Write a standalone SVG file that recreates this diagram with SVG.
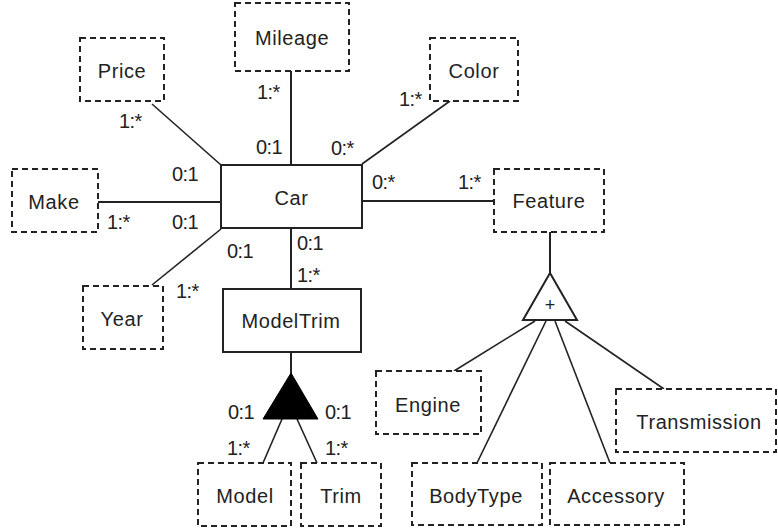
<svg xmlns="http://www.w3.org/2000/svg" width="778" height="529" viewBox="0 0 778 529">
<style>
.box{fill:#fff;stroke:#222;stroke-width:2}
.dbox{fill:#fff;stroke:#222;stroke-width:2;stroke-dasharray:6 4}
.lbl{font-family:"Liberation Sans",Arial,sans-serif;font-size:20px;fill:#222;text-anchor:middle;letter-spacing:0.6px}
.m{font-family:"Liberation Sans",Arial,sans-serif;font-size:20px;fill:#222;letter-spacing:-0.6px}
.c line{stroke:#222;stroke-width:2}
.c line.d{stroke-width:1.6}
</style>
<rect width="778" height="529" fill="#fff"/>
<g class="c" id="connectors">
<line class="d" x1="152" y1="104" x2="221" y2="165"/>
<line x1="291" y1="71" x2="291" y2="165"/>
<line class="d" x1="450" y1="101" x2="362" y2="164"/>
<line x1="98" y1="202" x2="221" y2="202"/>
<line class="d" x1="221" y1="229" x2="152" y2="285"/>
<line x1="362" y1="201" x2="494" y2="201"/>
<line x1="291" y1="228" x2="291" y2="289"/>
<line x1="291" y1="352" x2="291" y2="374"/>
<line class="d" x1="282" y1="419" x2="263" y2="463"/>
<line class="d" x1="297" y1="419" x2="317" y2="463"/>
<line x1="550" y1="232" x2="550" y2="274"/>
<line class="d" x1="535" y1="321" x2="454" y2="371"/>
<line class="d" x1="546" y1="321" x2="477" y2="463"/>
<line class="d" x1="555" y1="321" x2="610" y2="463"/>
<line class="d" x1="565" y1="321" x2="664" y2="389"/>
<text class="m" x="119" y="128">1:*</text>
<text class="m" x="172" y="181">0:1</text>
<text class="m" x="257" y="99">1:*</text>
<text class="m" x="256" y="154">0:1</text>
<text class="m" x="399" y="106">1:*</text>
<text class="m" x="331" y="155">0:*</text>
<text class="m" x="372" y="189">0:*</text>
<text class="m" x="458" y="189">1:*</text>
<text class="m" x="107" y="229">1:*</text>
<text class="m" x="172" y="229">0:1</text>
<text class="m" x="227" y="258">0:1</text>
<text class="m" x="176" y="298">1:*</text>
<text class="m" x="297" y="250">0:1</text>
<text class="m" x="297" y="282">1:*</text>
<text class="m" x="228" y="419">0:1</text>
<text class="m" x="325" y="419">0:1</text>
<text class="m" x="227" y="455">1:*</text>
<text class="m" x="325" y="455">1:*</text>
</g>
<g id="car"><rect class="box" x="221" y="165" width="141" height="63"/><text class="lbl" x="291.5" y="205">Car</text></g>
<g id="mileage"><rect class="dbox" x="235" y="3" width="114" height="68"/><text class="lbl" x="292" y="45">Mileage</text></g>
<g id="price"><rect class="dbox" x="80" y="38" width="84" height="63"/><text class="lbl" x="122" y="78">Price</text></g>
<g id="color"><rect class="dbox" x="430" y="38" width="88" height="63"/><text class="lbl" x="474" y="78">Color</text></g>
<g id="make"><rect class="dbox" x="12" y="169" width="86" height="63"/><text class="lbl" x="54" y="209">Make</text></g>
<g id="year"><rect class="dbox" x="83" y="286" width="80" height="63"/><text class="lbl" x="122" y="326">Year</text></g>
<g id="feature"><rect class="dbox" x="494" y="169" width="110" height="63"/><text class="lbl" x="549" y="208">Feature</text></g>
<g id="modeltrim"><rect class="box" x="223" y="289" width="138" height="63"/><text class="lbl" x="291" y="328">ModelTrim</text></g>
<g id="modeltrim-gen"><polygon points="291,373 263,419 318,419" fill="#000" stroke="#000" stroke-width="1"/></g>
<g id="model"><rect class="dbox" x="198" y="463" width="93" height="63"/><text class="lbl" x="245" y="503">Model</text></g>
<g id="trim"><rect class="dbox" x="301" y="463" width="80" height="63"/><text class="lbl" x="341" y="503">Trim</text></g>
<g id="feature-gen"><polygon points="550,273 523,320 577,320" fill="#fff" stroke="#222" stroke-width="2"/><text class="lbl" x="550" y="311" style="font-size:18px;letter-spacing:0">+</text></g>
<g id="engine"><rect class="dbox" x="376" y="371" width="105" height="63"/><text class="lbl" x="428" y="412">Engine</text></g>
<g id="bodytype"><rect class="dbox" x="412" y="463" width="130" height="62"/><text class="lbl" x="476" y="503">BodyType</text></g>
<g id="accessory"><rect class="dbox" x="550" y="463" width="134" height="62"/><text class="lbl" x="616" y="503">Accessory</text></g>
<g id="transmission"><rect class="dbox" x="616" y="389" width="160" height="63"/><text class="lbl" x="699" y="429">Transmission</text></g>
</svg>
